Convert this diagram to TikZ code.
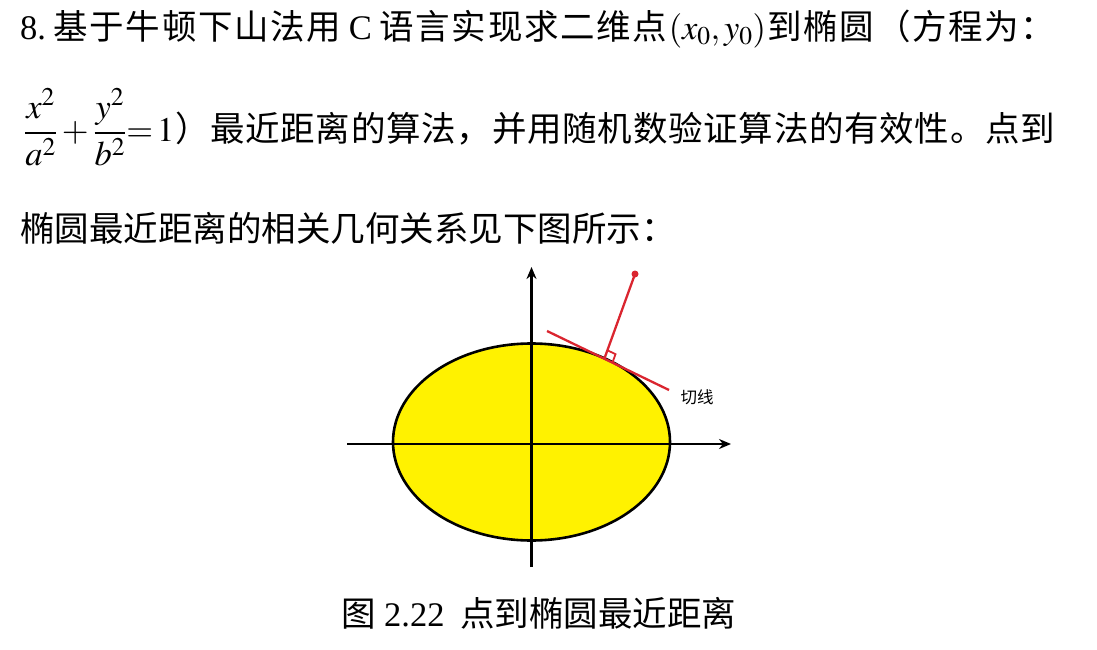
\documentclass[tikz,border=0pt]{standalone}
\usepackage{amsmath}
\usepackage{mathptmx}
\usepackage{fontspec}
\setmainfont{Liberation Serif}
\newfontfamily\cjk{Noto Sans CJK SC}
\newcommand{\lat}[1]{{\rmfamily #1}}
\newcommand{\cjkgap}{\hskip0pt plus 1fil\relax}
\XeTeXinterchartokenstate=1
\newXeTeXintercharclass\hanclass
\count255="3000
\loop
  \XeTeXcharclass\count255=\hanclass
  \advance\count255 by 1
\ifnum\count255<"A000 \repeat
\XeTeXcharclass"FF08=\hanclass
\XeTeXcharclass"FF09=\hanclass
\XeTeXcharclass"FF0C=\hanclass
\XeTeXcharclass"FF1A=\hanclass
\XeTeXinterchartoks\hanclass\hanclass={\cjkgap}
\usetikzlibrary{arrows.meta, calc}
\definecolor{ellyellow}{RGB}{255,242,0}
\definecolor{normred}{RGB}{218,37,47}

\begin{document}
\begin{tikzpicture}[x=1pt, y=-1pt,
  axis/.style={line width=2.6pt, -{Stealth[length=12pt, width=10pt]}},
  normal/.style={normred, line width=2.3pt},
  txt/.style={anchor=west, inner sep=0pt, font=\fontsize{34.5}{40}\selectfont\cjk}]
\useasboundingbox (0,0) rectangle (1097,650);
\node[txt] (line1) at (20,29) {\makebox[1035pt][s]{\lat{8.}\hspace{6pt}\cjkgap 基于牛顿下山法用\ \lat{C}\ 语言实现求二维点\cjkgap$(x_0,y_0)$\cjkgap 到椭圆（方程为：}};
\node[txt] (line2) at (24,127) {\makebox[1031pt][s]{$\dfrac{x^2}{a^2}+\dfrac{y^2}{b^2}{=}\,1$\cjkgap）最近距离的算法，并用随机数验证算法的有效性。点到}};
\node[txt] (line3) at (20,228) {椭圆最近距离的相关几何关系见下图所示：};
\filldraw[fill=ellyellow, line width=2.6pt] (531.5,442) ellipse [x radius=138.5pt, y radius=98.5pt];
\draw[axis] (347,444) -- (731,444);
\draw[axis] (531.5,567) -- (531.5,267);
\coordinate (P) at (635,274);
\coordinate (T1) at (547,331);
\coordinate (T2) at (669,390);
\coordinate (F) at ($(T1)!0.47!(T2)$);
\coordinate (Q) at ($(F)!9pt!(P)$);
\coordinate (R) at ($(F)!9pt!(T2)$);
\draw[normal] (T1) -- (T2);
\draw[normal] (F) -- (P);
\draw[normred, line width=1.8pt] (R) -- ($(Q)+(R)-(F)$) -- (Q);
\fill[normred] (P) circle [radius=3.5pt];
\node[font=\fontsize{16.5}{20}\selectfont\cjk] (tanlabel) at (697,397) {切线};
\node[txt, anchor=center] (caption) at (539,613) {图 \lat{2.22}\ \ 点到椭圆最近距离};
\end{tikzpicture}
\end{document}
